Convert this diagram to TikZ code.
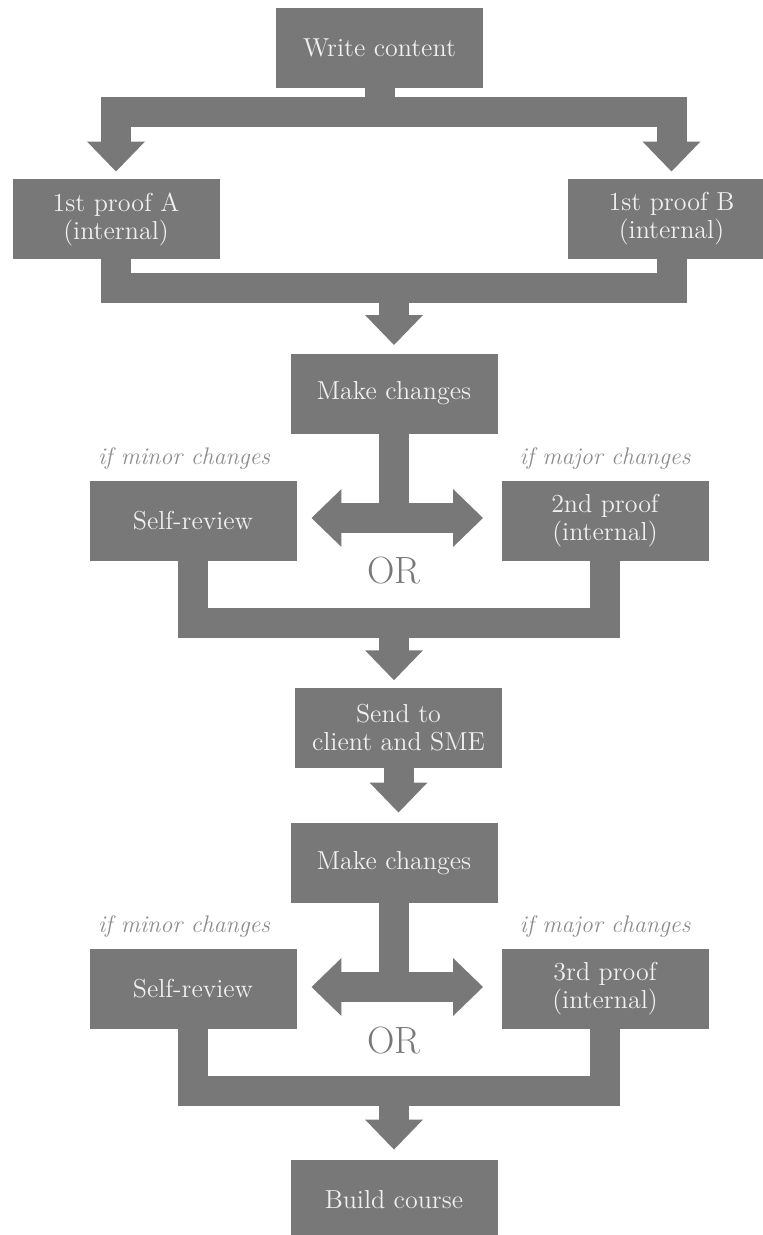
\documentclass[tikz,border=0pt]{standalone}
\usepackage{tikz}
\usepackage{xcolor}
\usetikzlibrary{arrows.meta}

\definecolor{boxgray}{HTML}{787878}
\definecolor{notegray}{HTML}{8C8C8C}

\tikzset{
  stepbox/.style={fill=boxgray, text=white!94!black, minimum width=103.5pt, minimum height=40pt,
    inner sep=0pt, align=center, font=\fontsize{13}{14}\selectfont},
  fat/.style={draw=boxgray, line width=15pt, line join=miter},
  fattip/.style={-{Triangle[length=15pt,width=28pt]}},
  fatboth/.style={{Triangle[length=15pt,width=28pt]}-{Triangle[length=15pt,width=28pt]}},
  note/.style={text=notegray, font=\fontsize{12}{14}\selectfont\itshape},
  ortext/.style={text=boxgray, font=\fontsize{19}{21}\selectfont}
}

\begin{document}
\begin{tikzpicture}[x=0.5pt, y=-0.5pt]
          \useasboundingbox (0,0) rectangle (763,1235);

          % first round
          \node[stepbox] (write) at (379.5,47.8) {Write content};
          \node[stepbox] (proofa) at (116,219) {1st proof A\\(internal)};
          \node[stepbox] (proofb) at (671.5,219) {1st proof B\\(internal)};
          \node[stepbox] (change1) at (394,393.5) {Make changes};

          % fan out and merge
          \draw[fat, fattip, shorten >=3.5pt] (write.south) -- (write.south |- 0,112) -| (proofa.north);
          \draw[fat, fattip, shorten >=3.5pt] (write.south) -- (write.south |- 0,112) -| (proofb.north);
          \draw[fat] (proofa.south) |- (proofb.south |- 0,288) -- (proofb.south);
          \draw[fat, fattip, shorten >=4pt] (change1.north |- 0,288) -- (change1.north);

          % second proof
          \node[stepbox] (self1) at (193,521) {Self-review};
          \node[stepbox] (proof2) at (605,521) {2nd proof\\(internal)};
          \node[note] (minor1) at (184,458) {if minor changes};
          \node[note] (major1) at (605,458) {if major changes};
          \node[ortext] (or1) at (394,571) {OR};
          \draw[fat] (change1.south) -- (change1.south |- 0,518);
          \draw[fat, fatboth, shorten <=7.25pt, shorten >=9pt] (self1.east |- 0,518) -- (proof2.west |- 0,518);

          % to client
          \node[stepbox] (send) at (398.5,727.7) {Send to\\client and SME};
          \draw[fat] (self1.south) |- (proof2.south |- 0,622.5) -- (proof2.south);
          \draw[fat, fattip, shorten >=3.5pt] (change1.south |- 0,622.5) -- (change1.south |- send.north);

          % second round
          \node[stepbox] (change2) at (394,863) {Make changes};
          \draw[fat, fattip, shorten >=5pt] (send.south) -- (send.south |- change2.north);

          % third proof
          \node[stepbox] (self2) at (193,989) {Self-review};
          \node[stepbox] (proof3) at (605,989) {3rd proof\\(internal)};
          \node[note] (minor2) at (184,926.7) {if minor changes};
          \node[note] (major2) at (605,926.7) {if major changes};
          \node[ortext] (or2) at (394,1041) {OR};
          \draw[fat] (change2.south) -- (change2.south |- 0,987);
          \draw[fat, fatboth, shorten <=7.25pt, shorten >=9pt] (self2.east |- 0,987) -- (proof3.west |- 0,987);

          % build
          \node[stepbox] (build) at (394,1200) {Build course};
          \draw[fat] (self2.south) |- (proof3.south |- 0,1091.4) -- (proof3.south);
          \draw[fat, fattip, shorten >=5pt] (build.north |- 0,1091.4) -- (build.north);
\end{tikzpicture}
\end{document}
